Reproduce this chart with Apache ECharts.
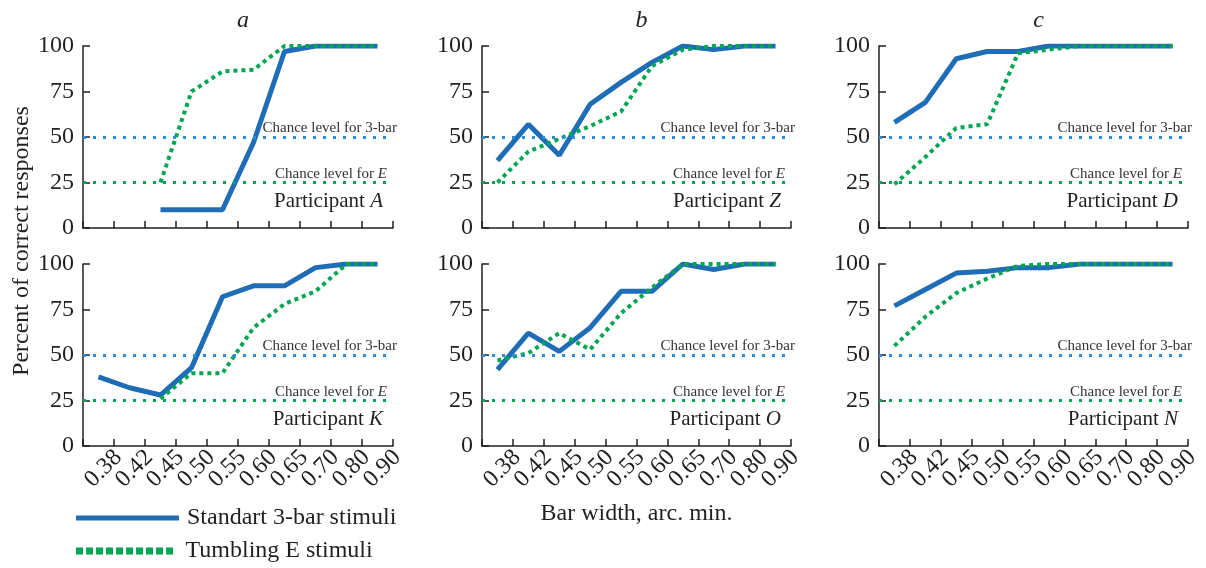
<!DOCTYPE html>
<html><head><meta charset="utf-8">
<script src="https://cdn.jsdelivr.net/npm/echarts@6/dist/echarts.min.js"></script>
<style>html,body{margin:0;padding:0;background:#fff}#c{width:1206px;height:568px}</style>
</head><body><div id="c"></div>
<script>
// Bar width categories (one band per measured width) and the tick labels shown at band boundaries
const categories = ['0.38','0.42','0.45','0.50','0.55','0.60','0.65','0.70','0.80','0.90'];
const tickLabels = ['', '0.38','0.42','0.45','0.50','0.55','0.60','0.65','0.70','0.80','0.90'];
const yTicks = [0, 25, 50, 75, 100];

// Percent of correct responses
const aBlue  = [null, null, 10, 10, 10, 47, 97, 100, 100, 100];
const aGreen = [null, null, 25, 75, 86, 87, 100, 100, 100, 100];
const zBlue  = [37, 57, 40, 68, 80, 91, 100, 98, 100, 100];
const zGreen = [25, 42, 49, 56, 64, 89, 98, 100, 100, 100];
const dBlue  = [58, 69, 93, 97, 97, 100, 100, 100, 100, 100];
const dGreen = [24, 39, 55, 57, 96, 98, 100, 100, 100, 100];
const kBlue  = [38, 32, 28, 43, 82, 88, 88, 98, 100, 100];
const kGreen = [null, null, 26, 40, 40, 65, 78, 85, 100, 100];
const oBlue  = [42, 62, 52, 65, 85, 85, 100, 97, 100, 100];
const oGreen = [47, 51, 62, 53, 73, 87, 100, 100, 100, 100];
const nBlue  = [77, 86, 95, 96, 98, 98, 100, 100, 100, 100];
const nGreen = [55, 71, 84, 92, 99, 100, 100, 100, 100, 100];

const chance3bar = 50;
const chanceE = 25;
const panelLetters = ['a', 'b', 'c'];
const participants = ['A', 'Z', 'D', 'K', 'O', 'N'];
const blueSets = [aBlue, zBlue, dBlue, kBlue, oBlue, nBlue];
const greenSets = [aGreen, zGreen, dGreen, kGreen, oGreen, nGreen];
const nameBlue = 'Standart 3-bar stimuli';
const nameGreen = 'Tumbling E stimuli';

const FONT = "'Liberation Serif','Times New Roman',serif";
const INK = '#231f20';
const BLUE = '#1e6db6';
const GREEN = '#00a651';
const CH_BLUE = '#2a8fd8';
const CH_GREEN = '#00a651';

const colLeft = [83, 482, 879];
const colWidth = [310, 309, 309];
const rowTop = [46, 264];
const rowHeight = 182;

const grid = [], xAxis = [], yAxis = [], series = [], title = [];
for (let r = 0; r < 2; r++) {
  for (let c = 0; c < 3; c++) {
    const k = r * 3 + c;
    grid.push({left: colLeft[c], top: rowTop[r], width: colWidth[c], height: rowHeight});
    xAxis.push({type: 'category', gridIndex: k, data: categories, boundaryGap: true, show: false, position: 'bottom'});
    xAxis.push({
      type: 'category', gridIndex: k, data: tickLabels, boundaryGap: false, position: 'bottom',
      axisLine: {lineStyle: {color: INK, width: 1.5}},
      axisTick: {inside: true, length: 7, lineStyle: {color: INK, width: 1.5}, alignWithLabel: true},
      axisLabel: {show: r === 1, rotate: 45, interval: 0, margin: 12, fontFamily: FONT, fontSize: 24, color: INK,
                  padding: [0, -6, 0, 0]},
      name: (r === 1 && c === 1) ? 'Bar width, arc. min.' : '',
      nameLocation: 'middle', nameGap: 56,
      nameTextStyle: {fontFamily: FONT, fontSize: 24, color: INK}
    });
    yAxis.push({
      type: 'value', gridIndex: k, min: yTicks[0], max: yTicks[yTicks.length - 1], interval: 25,
      splitLine: {show: false},
      axisLine: {show: true, lineStyle: {color: INK, width: 1.5}},
      axisTick: {show: true, inside: true, length: 7, lineStyle: {color: INK, width: 1.5}},
      axisLabel: {margin: 9, fontFamily: FONT, fontSize: 24, color: INK}
    });
    series.push({
      type: 'line', name: nameBlue, xAxisIndex: 2 * k, yAxisIndex: k, data: blueSets[k],
      symbol: 'none', connectNulls: false, z: 3,
      lineStyle: {color: BLUE, width: 5}, itemStyle: {color: BLUE},
      markLine: {
        silent: true, symbol: ['none', 'none'], animation: false,
        data: [
          {yAxis: chance3bar, lineStyle: {color: CH_BLUE, type: [3, 7], width: 3},
           label: {position: 'insideEndTop', distance: [-4, 1], formatter: 'Chance level for 3-bar',
                   fontFamily: FONT, fontSize: 15, color: '#333'}},
          {yAxis: chanceE, lineStyle: {color: CH_GREEN, type: [3, 7], width: 3},
           label: {position: 'insideEndTop', distance: [6, 1], formatter: 'Chance level for {i|E}',
                   fontFamily: FONT, fontSize: 15, color: '#333',
                   rich: {i: {fontStyle: 'italic', fontFamily: FONT, fontSize: 15, color: '#333'}}}}
        ]
      }
    });
    series.push({
      type: 'line', name: nameGreen, xAxisIndex: 2 * k, yAxisIndex: k, data: greenSets[k],
      symbol: 'none', connectNulls: false, z: 4,
      lineStyle: {color: GREEN, width: 4, type: [4, 4], cap: 'butt'}, itemStyle: {color: GREEN}
    });
    title.push({
      text: 'Participant {i|' + participants[k] + '}',
      left: colLeft[c] + colWidth[c] - 10, top: rowTop[r] + 145, textAlign: 'right', padding: 0,
      textStyle: {fontFamily: FONT, fontSize: 21, fontWeight: 'normal', color: INK,
        rich: {i: {fontStyle: 'italic', fontFamily: FONT, fontSize: 21, color: INK}}}
    });
    if (r === 0) {
      title.push({
        text: panelLetters[c], left: colLeft[c] + colWidth[c] / 2, top: 4, textAlign: 'center',
        textStyle: {fontFamily: FONT, fontSize: 24, fontStyle: 'italic', fontWeight: 'normal', color: INK}
      });
    }
  }
}

// dotted legend icon: ten small squares
let dotPath = 'path://';
for (let i = 0; i < 10; i++) dotPath += 'M' + (i * 10) + ',0h7v7h-7z';

const chart = echarts.init(document.getElementById('c'), null, {renderer: 'canvas'});
chart.setOption({
  animation: false,
  backgroundColor: '#ffffff',
  title: title,
  grid: grid,
  xAxis: xAxis,
  yAxis: yAxis,
  series: series,
  legend: [
    {
      left: 76, top: 506, itemWidth: 103, itemHeight: 5, padding: 0, itemGap: 0,
      textStyle: {fontFamily: FONT, fontSize: 24, color: INK, padding: [0, 0, 0, 3]},
      data: [{name: nameBlue, icon: 'rect'}]
    },
    {
      left: 76, top: 539, itemWidth: 100, itemHeight: 7, padding: 0, itemGap: 0,
      textStyle: {fontFamily: FONT, fontSize: 24, color: INK, padding: [0, 0, 0, 6]},
      data: [{name: nameGreen, icon: dotPath}]
    }
  ],
  graphic: [{
    type: 'text', x: 22, y: 241, rotation: Math.PI / 2,
    style: {text: 'Percent of correct responses', font: "24px 'Liberation Serif','Times New Roman',serif",
            fill: INK, textAlign: 'center', textVerticalAlign: 'middle'}
  }]
});
</script></body></html>
